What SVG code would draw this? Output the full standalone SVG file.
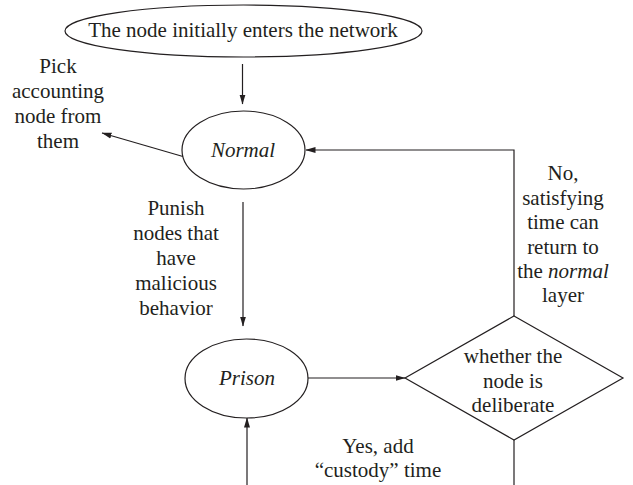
<svg xmlns="http://www.w3.org/2000/svg" width="633" height="485" viewBox="0 0 633 485">
<defs>
<marker id="ah" markerWidth="10" markerHeight="7" refX="9.5" refY="3.5" orient="auto" markerUnits="userSpaceOnUse">
<path d="M0,0.5 L10,3.5 L0,6.5 Z" fill="#231f20"/>
</marker>
<style>
.shape{fill:#fff;stroke:#231f20;stroke-width:1.2}
.ln{fill:none;stroke:#231f20;stroke-width:1.2}
.arr{fill:none;stroke:#231f20;stroke-width:1.2;marker-end:url(#ah)}
text{font-family:"Liberation Serif","DejaVu Serif",serif;font-size:21px;fill:#231f20;text-anchor:middle}
.it{font-style:italic}
</style>
</defs>
<rect width="633" height="485" fill="#fff"/>
<g id="connectors">
<line class="arr" x1="242.5" y1="64" x2="242.5" y2="104"/>
<line class="arr" x1="195" y1="160" x2="102" y2="133"/>
<line class="arr" x1="243" y1="202" x2="243" y2="326"/>
<polyline class="arr" points="514,316 514,150 306,150"/>
<line class="arr" x1="308" y1="378" x2="405" y2="378"/>
<line class="arr" x1="247" y1="485" x2="247" y2="418"/>
<line class="ln" x1="514" y1="440" x2="514" y2="485"/>
</g>
<g id="start">
<ellipse class="shape" cx="243.5" cy="31" rx="178.5" ry="26"/>
<text x="243" y="37">The node initially enters the network</text>
</g>
<g id="normal">
<ellipse class="shape" cx="243.5" cy="150" rx="61.5" ry="39"/>
<text class="it" x="243" y="157">Normal</text>
</g>
<g id="prison">
<ellipse class="shape" cx="246.5" cy="378.5" rx="61.5" ry="39.5"/>
<text class="it" x="247" y="385">Prison</text>
</g>
<g id="decision">
<polygon class="shape" points="514,316 623,378 514,440 405,378"/>
<text x="513" y="363">whether the</text>
<text x="513" y="388">node is</text>
<text x="513" y="412">deliberate</text>
</g>
<g id="labels">
<text x="58" y="73">Pick</text>
<text x="58" y="98">accounting</text>
<text x="58" y="123">node from</text>
<text x="58" y="148">them</text>
<text x="176" y="215">Punish</text>
<text x="176" y="240">nodes that</text>
<text x="176" y="265">have</text>
<text x="176" y="290">malicious</text>
<text x="176" y="315">behavior</text>
<text x="563" y="180">No,</text>
<text x="563" y="205">satisfying</text>
<text x="563" y="229">time can</text>
<text x="563" y="254">return to</text>
<text x="563" y="278">the <tspan class="it">normal</tspan></text>
<text x="563" y="302">layer</text>
<text x="378" y="453">Yes, add</text>
<text x="378" y="477">“custody” time</text>
</g>
</svg>
